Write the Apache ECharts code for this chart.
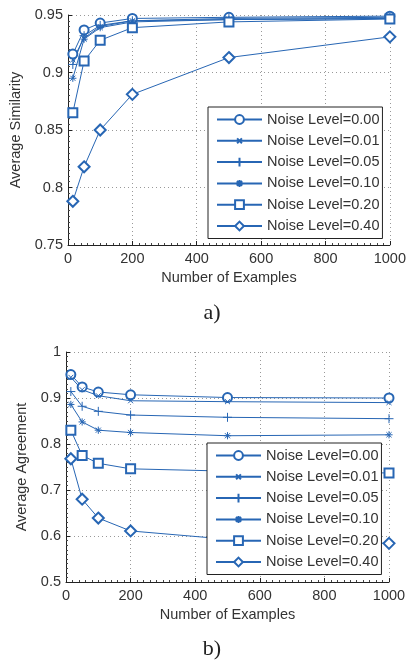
<!DOCTYPE html>
<html lang="en">
<head>
    <meta charset="UTF-8">
    <script src="https://cdn.jsdelivr.net/npm/echarts@6/dist/echarts.min.js"></script>
    <title>Noise Level</title>
</head>
<body style="margin:0;background:#fff;">
<div id="main" style="width: 409px;height:661px;"></div>
<script type="text/javascript">

    // number of examples (x)
    var examples = [15, 50, 100, 200, 500, 1000];
    var noiseNames = ['Noise Level=0.00', 'Noise Level=0.01', 'Noise Level=0.05',
        'Noise Level=0.10', 'Noise Level=0.20', 'Noise Level=0.40'];

    // a) average similarity
    var sim000 = [0.916, 0.937, 0.943, 0.947, 0.948, 0.949];
    var sim001 = [0.911, 0.930, 0.940, 0.945, 0.946, 0.947];
    var sim005 = [0.907, 0.932, 0.941, 0.945, 0.947, 0.948];
    var sim010 = [0.895, 0.929, 0.939, 0.944, 0.946, 0.947];
    var sim020 = [0.865, 0.910, 0.928, 0.939, 0.944, 0.9465];
    var sim040 = [0.788, 0.818, 0.850, 0.881, 0.913, 0.931];

    // b) average agreement
    var agr000 = [0.951, 0.924, 0.913, 0.907, 0.901, 0.900];
    var agr001 = [0.945, 0.918, 0.905, 0.894, 0.892, 0.890];
    var agr005 = [0.914, 0.882, 0.871, 0.863, 0.858, 0.855];
    var agr010 = [0.886, 0.848, 0.830, 0.825, 0.818, 0.820];
    var agr020 = [0.830, 0.775, 0.758, 0.746, 0.741, 0.737];
    var agr040 = [0.768, 0.680, 0.639, 0.611, 0.593, 0.584];

    var blue = '#2766b4';
    var txt = '#333';
    var font = 'Liberation Sans';
    var fs = 14.5;

    // 标记样式 (path symbols keep a 20x20 frame so the legend scales them like the circle)
    var frame = 'M0,0M20,20';
    var symbols = [
        {symbol: 'emptyCircle', size: 9},
        {symbol: 'path://' + frame + 'M4.5,4.5L15.5,15.5M15.5,4.5L4.5,15.5', size: 9},
        {symbol: 'path://' + frame + 'M10,0L10,20M0,10L20,10', size: 9},
        {symbol: 'path://' + frame + 'M10,2L10,18M2,10L18,10M4.3,4.3L15.7,15.7M15.7,4.3L4.3,15.7', size: 9},
        {symbol: 'emptyRect', size: 9},
        {symbol: 'emptyDiamond', size: 11}
    ];

    function pairs(vals) {
        return examples.map(function (x, i) { return [x, vals[i]]; });
    }

    function makeSeries(list, idx) {
        return list.map(function (vals, i) {
            return {
                name: noiseNames[i],
                type: 'line',
                xAxisIndex: idx,
                yAxisIndex: idx,
                data: pairs(vals),
                symbol: symbols[i].symbol,
                symbolSize: symbols[i].size,
                lineStyle: {color: blue, width: 1},
                itemStyle: {color: blue, borderColor: blue, borderWidth: 1},
                emphasis: {disabled: true}
            };
        });
    }

    function xAxis(idx) {
        return {
            type: 'value', gridIndex: idx, min: 0, max: 1000, interval: 200,
            name: 'Number of Examples', nameLocation: 'middle', nameGap: 25,
            nameTextStyle: {color: txt, fontFamily: font, fontSize: fs},
            axisLine: {lineStyle: {color: '#222'}},
            axisTick: {inside: true, length: 4, lineStyle: {color: '#222'}},
            minorTick: {show: true, splitNumber: 10, length: 2, lineStyle: {color: '#444'}},
            axisLabel: {color: txt, fontFamily: font, fontSize: fs, margin: 6,
                formatter: function (v) { return String(v); }},
            splitLine: {show: true, lineStyle: {color: '#999', type: [1, 3]}}
        };
    }

    function yAxis(idx, name, min, max, interval, gap) {
        return {
            type: 'value', gridIndex: idx, min: min, max: max, interval: interval,
            name: name, nameLocation: 'middle', nameGap: gap,
            nameTextStyle: {color: txt, fontFamily: font, fontSize: fs},
            axisLine: {show: true, lineStyle: {color: '#222'}},
            axisTick: {show: true, inside: true, length: 4, lineStyle: {color: '#222'}},
            minorTick: {show: true, splitNumber: 10, length: 2, lineStyle: {color: '#444'}},
            axisLabel: {color: txt, fontFamily: font, fontSize: fs, margin: 5},
            splitLine: {show: true, lineStyle: {color: '#999', type: [1, 3]}}
        };
    }

    function legend(left, top) {
        return {
            data: noiseNames, orient: 'vertical', left: left, top: top,
            itemWidth: 45, itemHeight: 11, itemGap: 6.3,
            padding: [5, 3, 5, 8],
            backgroundColor: '#fff', borderColor: '#222', borderWidth: 1, borderRadius: 0,
            selectedMode: false,
            textStyle: {color: txt, fontFamily: font, fontSize: fs}
        };
    }

    var myChart = echarts.init(document.getElementById('main'));

    var option = {
        animation: false,
        backgroundColor: '#fff',
        grid: [
            {left: 68, top: 15, width: 323, height: 230},
            {left: 66, top: 352, width: 323, height: 230}
        ],
        xAxis: [xAxis(0), xAxis(1)],
        yAxis: [
            yAxis(0, 'Average Similarity', 0.75, 0.95, 0.05, 42),
            yAxis(1, 'Average Agreement', 0.5, 1, 0.1, 33)
        ],
        legend: [legend(208, 107), legend(207, 443)],
        graphic: [
            {type: 'text', x: 212, y: 313, style: {text: 'a)', fill: '#222', font: '22px "Liberation Serif"', align: 'center', verticalAlign: 'middle'}},
            {type: 'text', x: 212, y: 649, style: {text: 'b)', fill: '#222', font: '22px "Liberation Serif"', align: 'center', verticalAlign: 'middle'}}
        ],
        series: makeSeries([sim000, sim001, sim005, sim010, sim020, sim040], 0)
            .concat(makeSeries([agr000, agr001, agr005, agr010, agr020, agr040], 1))
    };

    myChart.setOption(option);

</script>
</body>
</html>
